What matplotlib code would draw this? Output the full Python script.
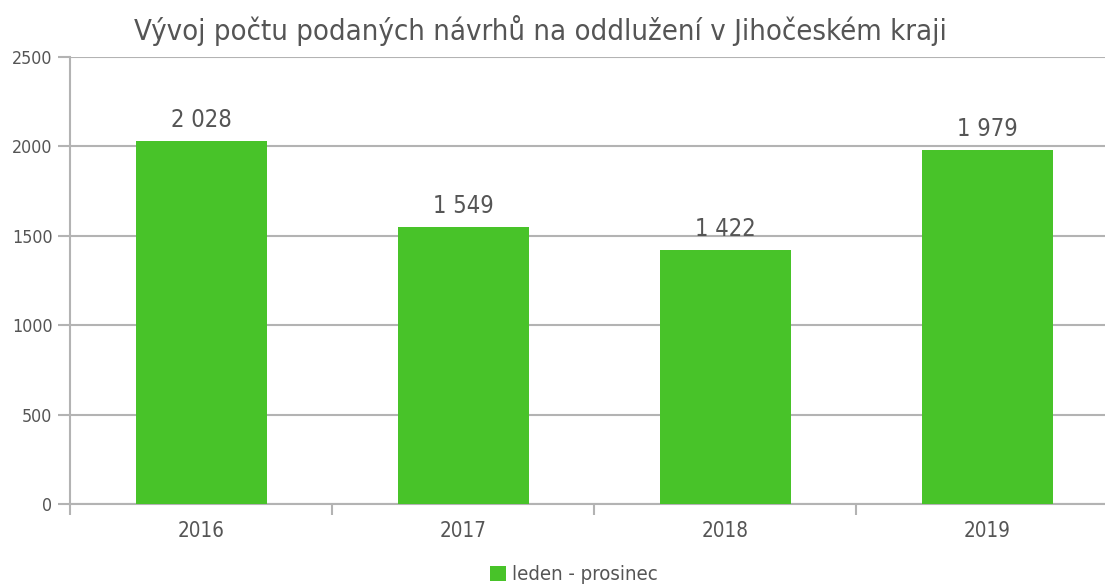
import matplotlib
matplotlib.use("Agg")
import matplotlib.pyplot as plt

years = ["2016", "2017", "2018", "2019"]
values = [2028, 1549, 1422, 1979]
series_name = "leden - prosinec"
title = "Vývoj počtu podaných návrhů na oddlužení v Jihočeském kraji"
yticks = [0, 500, 1000, 1500, 2000, 2500]

W, H = 1105, 586
fig = plt.figure(figsize=(W / 100, H / 100), dpi=100)
plt.rcParams['font.family'] = ['DejaVu Sans']
FS = dict(family="DejaVu Sans", stretch="condensed")

ax_left, ax_right = 70, 1105
ax_top, ax_bot = 57, 504
ax = fig.add_axes([ax_left / W, (H - ax_bot) / H, (ax_right - ax_left) / W, (ax_bot - ax_top) / H])
cat_px = 262
xmax = -0.5 + (ax_right - ax_left) / cat_px
ax.set_xlim(-0.5, xmax)
ax.set_ylim(0, 2500)

green = "#48c329"
grid = "#b3b3b3"
txt = "#555555"

xs = list(range(len(years)))
ax.bar(xs, values, width=0.5, color=green, zorder=3, label=series_name)
for x, v in zip(xs, values):
    s = f"{v:,}".replace(",", " ")
    ax.annotate(s, (x, v), xytext=(0, 9), textcoords="offset pixels", ha="center", va="bottom",
                fontsize=17, color=txt, **FS)

ax.set_yticks(yticks)
ax.set_yticklabels([str(t) for t in yticks], fontsize=12.8, color=txt, **FS)
ax.yaxis.grid(True, color=grid, linewidth=1.5, zorder=0)
ax.tick_params(axis="y", length=8.6, width=1.5, color=grid, pad=4)

ax.set_xticks([-0.5, 0.5, 1.5, 2.5])
ax.set_xticklabels([])
ax.tick_params(axis="x", which="major", length=8, width=1.5, color=grid)
ax.set_xticks(xs, minor=True)
ax.set_xticklabels(years, minor=True, fontsize=14.8, color=txt, **FS)
ax.tick_params(axis="x", which="minor", length=0, pad=12)

for s in ["top", "right"]:
    ax.spines[s].set_visible(False)
for s in ["left", "bottom"]:
    ax.spines[s].set_color(grid)
    ax.spines[s].set_linewidth(1.5)
ax.set_axisbelow(True)

fig.text(540.5 / W, 1 - 31 / H, title, ha="center", va="center", fontsize=21, color=txt, **FS)

leg = fig.legend(loc="center", bbox_to_anchor=(574 / W, 1 - 575 / H), frameon=False,
                 prop=dict(size=14.6, **FS), handlelength=0.8, handleheight=0.8, handletextpad=0.3)
for t in leg.get_texts():
    t.set_color(txt)

fig.savefig("out.png", dpi=100)
